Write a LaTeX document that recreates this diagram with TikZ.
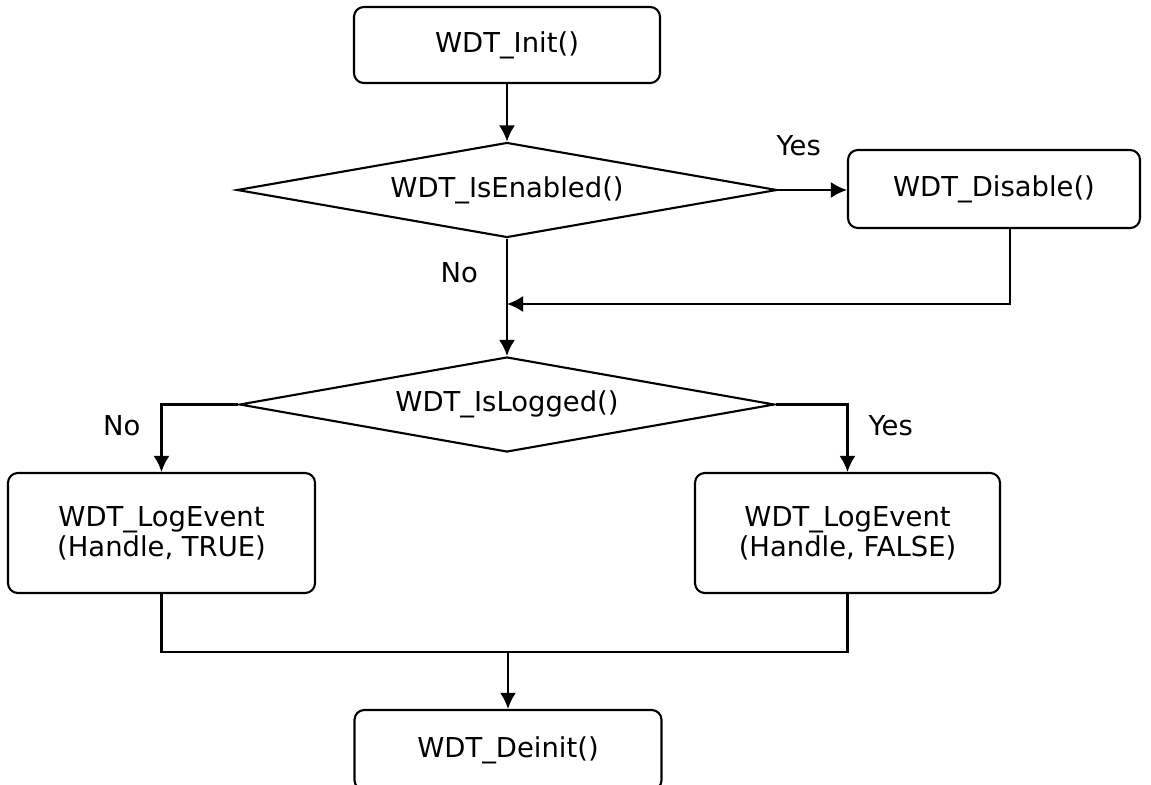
\documentclass[tikz,border=0pt]{standalone}
\usepackage{fontspec}
\setmainfont{DejaVu Sans}
\usetikzlibrary{arrows.meta,shapes.geometric}

\begin{document}
\begin{tikzpicture}[box/.style={draw, rounded corners=2.8pt, align=center},
						test/.style={draw, diamond, aspect=5.7, inner sep=1pt},
						lbl/.style={inner sep=0pt},
						>={Latex[length=4.6pt,width=4.6pt]}, line width=.6pt,
						font=\fontsize{7.8}{8.6}\selectfont]
		\useasboundingbox (0,0) rectangle (11.51,-7.85);
		% calls and tests
		\node[box, minimum width=3.06cm, minimum height=.76cm] (init) at (5.07,-.45) {WDT\_Init()};
		\node[test, minimum width=5.4cm, minimum height=.95cm] (isenabled) at (5.07,-1.9) {WDT\_IsEnabled()};
		\node[box, minimum width=2.92cm, minimum height=.78cm] (disable) at (9.94,-1.89) {WDT\_Disable()};
		\node[test, minimum width=5.35cm, minimum height=.95cm] (islogged) at (5.07,-4.045) {WDT\_IsLogged()};
		\node[box, minimum width=3.07cm, minimum height=1.2cm] (logtrue) at (1.615,-5.33) {WDT\_LogEvent\\(Handle, TRUE)};
		\node[box, minimum width=3.05cm, minimum height=1.2cm] (logfalse) at (8.475,-5.33) {WDT\_LogEvent\\(Handle, FALSE)};
		\node[box, minimum width=3.07cm, minimum height=.8cm] (deinit) at (5.08,-7.5) {WDT\_Deinit()};
		\coordinate (back) at (10.10,-3.04);
		\coordinate (join) at (5.08,-6.52);
		% flow
		\draw[->] (init) -- (isenabled);
		\draw[->] (isenabled.east) -- (isenabled.east -| disable.west) node[lbl, pos=.3, above=.33cm] {Yes};
		\draw[->] (disable.south -| back) -- (back) -- (back -| isenabled.south);
		\draw[->] (isenabled.south) -- (islogged.north) node[lbl, pos=.29, left=.28cm] {No};
		\draw[->] (islogged.west) -- (islogged.west -| logtrue.north) -- (logtrue.north) node[lbl, pos=.32, left=.2cm] {No};
		\draw[->] (islogged.east) -- (islogged.east -| logfalse.north) -- (logfalse.north) node[lbl, pos=.32, right=.2cm] {Yes};
		\draw (logtrue.south) -- (logtrue.south |- join) -- (join -| logfalse.south) -- (logfalse.south);
		\draw[->] (join) -- (deinit);
	\end{tikzpicture}
\end{document}
